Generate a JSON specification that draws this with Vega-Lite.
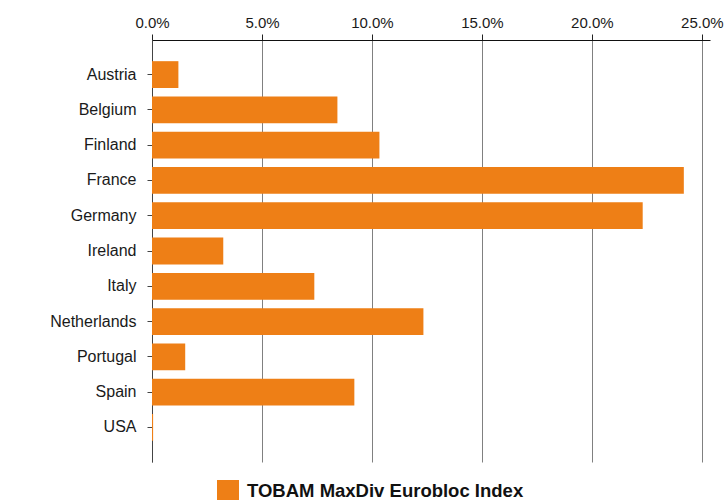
{
  "$schema": "https://vega.github.io/schema/vega-lite/v6.json",
  "autosize": {"type": "none"},
  "width": 558,
  "height": 422,
  "padding": {"left": 152, "top": 40, "right": 17, "bottom": 38},
  "background": "white",
  "config": {
    "view": {"stroke": null},
    "font": "Liberation Sans"
  },
  "data": {
    "values": [
      {"country": "Austria", "weight": 0.0120, "series": "TOBAM MaxDiv Eurobloc Index"},
      {"country": "Belgium", "weight": 0.0843, "series": "TOBAM MaxDiv Eurobloc Index"},
      {"country": "Finland", "weight": 0.1034, "series": "TOBAM MaxDiv Eurobloc Index"},
      {"country": "France", "weight": 0.2418, "series": "TOBAM MaxDiv Eurobloc Index"},
      {"country": "Germany", "weight": 0.2231, "series": "TOBAM MaxDiv Eurobloc Index"},
      {"country": "Ireland", "weight": 0.0324, "series": "TOBAM MaxDiv Eurobloc Index"},
      {"country": "Italy", "weight": 0.0738, "series": "TOBAM MaxDiv Eurobloc Index"},
      {"country": "Netherlands", "weight": 0.1234, "series": "TOBAM MaxDiv Eurobloc Index"},
      {"country": "Portugal", "weight": 0.0151, "series": "TOBAM MaxDiv Eurobloc Index"},
      {"country": "Spain", "weight": 0.0920, "series": "TOBAM MaxDiv Eurobloc Index"},
      {"country": "USA", "weight": 0.0005, "series": "TOBAM MaxDiv Eurobloc Index"}
    ]
  },
  "mark": {"type": "bar"},
  "encoding": {
    "y": {
      "field": "country",
      "type": "nominal",
      "sort": null,
      "scale": {"paddingInner": 0.24, "paddingOuter": 0.6},
      "axis": {
        "title": null,
        "labelFontSize": 16,
        "labelColor": "#1a1a1a",
        "labelPadding": 11,
        "tickSize": 5,
        "tickColor": "#444444",
        "domainColor": "#444444",
        "grid": false
      }
    },
    "x": {
      "field": "weight",
      "type": "quantitative",
      "scale": {"domain": [0, 0.2537], "nice": false},
      "axis": {
        "orient": "top",
        "title": null,
        "format": ".1%",
        "values": [0, 0.05, 0.1, 0.15, 0.2, 0.25],
        "labelFontSize": 15,
        "labelColor": "#1a1a1a",
        "labelPadding": 4,
        "tickSize": 6,
        "tickColor": "#222222",
        "domainColor": "#111111",
        "grid": true,
        "gridColor": "#808080",
        "gridOpacity": 1,
        "labelFlush": false
      }
    },
    "color": {
      "field": "series",
      "type": "nominal",
      "scale": {"range": ["#EE7F16"]},
      "legend": {
        "title": null,
        "orient": "none",
        "legendX": 65,
        "legendY": 440,
        "direction": "horizontal",
        "symbolType": "square",
        "symbolSize": 484,
        "symbolStrokeWidth": 0,
        "symbolOpacity": 1,
        "labelFontSize": 18.5,
        "labelFontWeight": "bold",
        "labelColor": "#111111",
        "labelOffset": 8,
        "labelLimit": 500
      }
    }
  }
}
